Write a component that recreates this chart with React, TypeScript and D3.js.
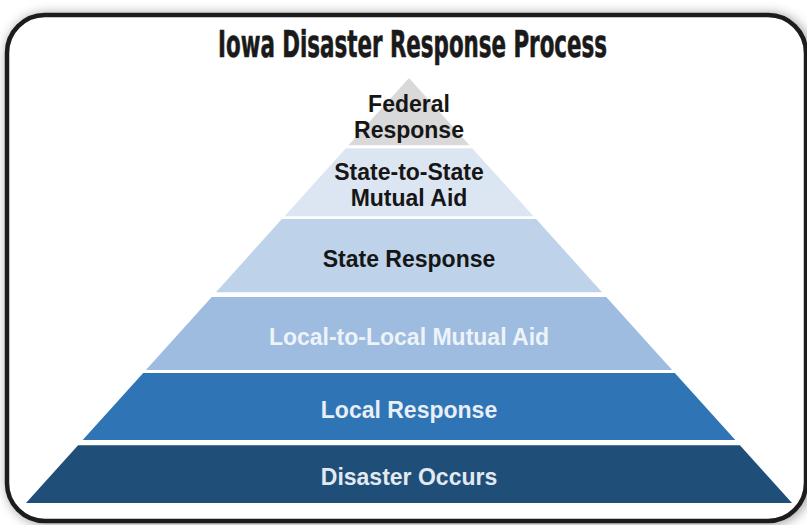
import React, { useLayoutEffect, useRef, useState } from 'react';
import * as d3 from 'd3';

// pyramid layers, top to bottom
const layerLabels: string[][] = [
  ['Federal', 'Response'],
  ['State-to-State', 'Mutual Aid'],
  ['State Response'],
  ['Local-to-Local Mutual Aid'],
  ['Local Response'],
  ['Disaster Occurs'],
];
// depth of each layer edge, % of pyramid height measured from the apex
const layerTop = [0, 16.5, 33.2, 51.5, 69.4, 86.4];
const layerBottom = [15.8, 32.5, 50.4, 68.7, 85.2, 100];
const layerFill = ['#d9d9d9', '#dce6f2', '#bed3ea', '#9dbce0', '#2f74b5', '#1f4e79'];
const layerText = ['#161616', '#161616', '#161616', '#eef3f9', '#e9eff7', '#e3e9f0'];

const title = 'Iowa Disaster Response Process';

const W = 807;
const H = 525;

export default function App() {
  const titleRef = useRef<SVGTextElement>(null);
  const [titleScale, setTitleScale] = useState(0.6);

  // squeeze the title into the condensed width of the original
  useLayoutEffect(() => {
    if (!titleRef.current) return;
    const len = titleRef.current.getComputedTextLength();
    if (len > 0) setTitleScale(389 / len);
  }, []);

  const cx = 409;
  // depth -> y
  const y = d3.scaleLinear().domain([0, 100]).range([78, 503]);
  // depth -> half width of the pyramid
  const hw = d3.scaleLinear().domain([0, 100]).range([0, 383]);

  const fontSize = 23;
  const lineH = 26;
  const cap = fontSize * 0.72;

  const layers = layerLabels.map((lines, i) => {
    const t = layerTop[i];
    const b = layerBottom[i];
    const path = d3.path();
    path.moveTo(cx - hw(t), y(t));
    path.lineTo(cx + hw(t), y(t));
    path.lineTo(cx + hw(b), y(b));
    path.lineTo(cx - hw(b), y(b));
    path.closePath();
    const mid = (y(t) + y(b)) / 2 + (i === 0 ? 5 : 3);
    const first = mid + cap / 2 - ((lines.length - 1) * lineH) / 2;
    return { d: path.toString(), lines, first, fill: layerFill[i], color: layerText[i] };
  });

  return (
    <svg
      width={W}
      height={H}
      style={{ position: 'absolute', left: 0, top: 0, display: 'block', background: '#ffffff' }}
    >
      <defs>
        <filter id="frameShadow" x="-5%" y="-8%" width="110%" height="116%">
          <feDropShadow dx="2" dy="1" stdDeviation="6" floodColor="#000" floodOpacity="0.4" />
        </filter>
      </defs>
      <rect
        x={7}
        y={15}
        width={799}
        height={506}
        rx={38}
        ry={38}
        fill="#ffffff"
        stroke="#1c1c1c"
        strokeWidth={4.5}
        filter="url(#frameShadow)"
      />
      <g transform={`translate(412.5,57) scale(${titleScale},1)`}>
        <text
          ref={titleRef}
          x={0}
          y={0}
          textAnchor="middle"
          fontFamily="'Liberation Sans Narrow', 'DejaVu Sans Condensed', 'Arial Narrow', sans-serif"
          fontWeight="bold"
          fontSize={37}
          fill="#1a1a1a"
          stroke="#1a1a1a"
          strokeWidth={0.6}
        >
          {title}
        </text>
      </g>
      <g>
        {layers.map((l, i) => (
          <g key={i}>
            <path d={l.d} fill={l.fill} />
            {l.lines.map((s, j) => (
              <text
                key={j}
                x={cx}
                y={l.first + j * lineH}
                textAnchor="middle"
                fontFamily="'Liberation Sans', Arial, sans-serif"
                fontWeight="bold"
                fontSize={fontSize}
                fill={l.color}
              >
                {s}
              </text>
            ))}
          </g>
        ))}
      </g>
    </svg>
  );
}
